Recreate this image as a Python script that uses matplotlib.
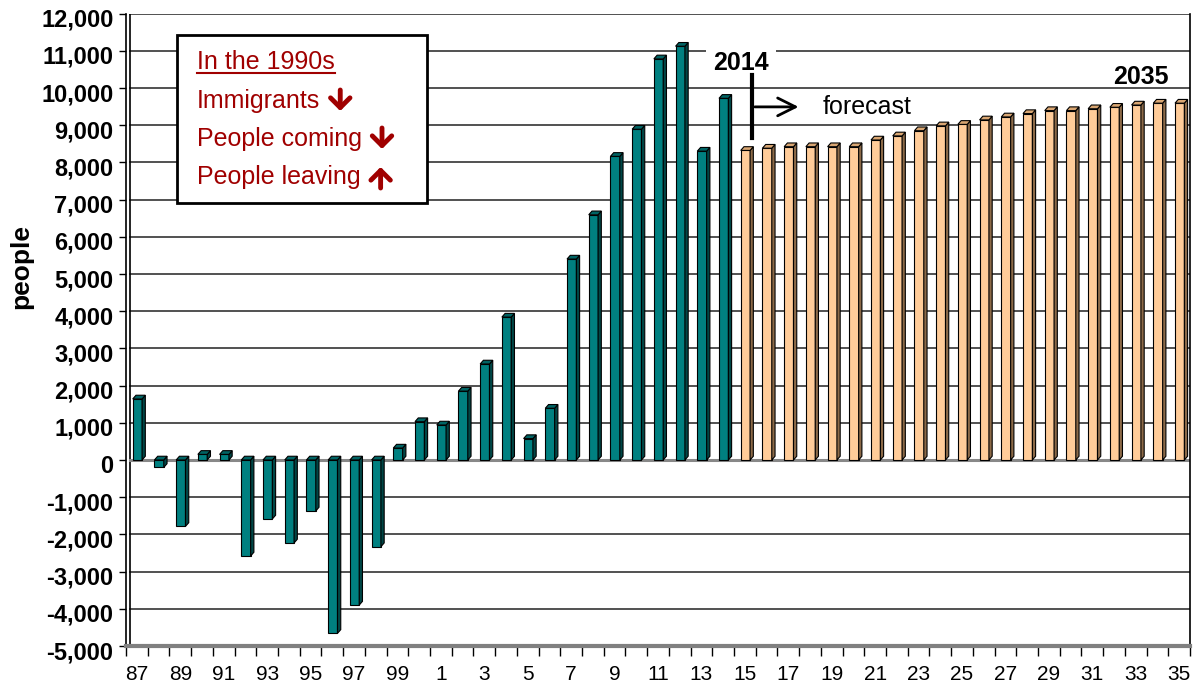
import numpy as np
import matplotlib.pyplot as plt
from matplotlib.patches import Polygon, Rectangle, FancyArrowPatch
from matplotlib.ticker import FuncFormatter, MultipleLocator
import matplotlib.transforms as mtransforms

plt.rcParams['font.family'] = ['Liberation Sans', 'DejaVu Sans']

# data: net migration (people), 1987-2014 actual, 2015-2035 forecast
years = list(range(1987, 2036))
actual = [1640, -200, -1785, 150, 150, -2580, -1585, -2230, -1370, -4660,
          -3900, -2330, 320, 1030, 940, 1850, 2580, 3840, 575, 1390,
          5400, 6590, 8160, 8890, 10780, 11120, 8300, 9720]
forecast = [8320, 8380, 8420, 8420, 8420, 8420, 8600, 8710, 8850, 8980,
            9020, 9140, 9220, 9310, 9390, 9390, 9440, 9480, 9540, 9590, 9590]
tick_labels = [str(y % 100) for y in years]
note_lines = ['In the 1990s', 'Immigrants', 'People coming', 'People leaving']
note_dirs = [0, -1, -1, 1]  # arrow after the line: down / up

W, H = 1195, 685
fig = plt.figure(figsize=(W / 100, H / 100), dpi=100)
ax = fig.add_axes([126 / W, 1 - 646 / H, (1190 - 126) / W, (646 - 13.5) / H])
ax.set_xlim(-0.5, len(years) - 0.5)
ax.set_ylim(-5000, 12000)

# back-wall gridlines
for g in range(-5000, 12001, 1000):
    ax.plot([-0.5 + 4 / 21.7, len(years) - 0.5], [g, g], color='#333333', lw=1.2, zorder=1)
ax.plot([-0.5 + 4 / 21.7, len(years) - 0.5], [0, 0], color='#888888', lw=2.2, zorder=1.5)
ax.axvline(-0.5 + 4 / 21.7, color='black', lw=1.2, zorder=1)

# pseudo-3D bars
front_w, off = 0.43, -0.19
dx, dy = 0.15, 100


def draw_bars(xs, vals, front, side, top):
    ax.bar(np.array(xs) + off, vals, width=front_w, align='edge', color=front,
           edgecolor='black', lw=0.8, zorder=3)
    for xi, v in zip(xs, vals):
        x0 = xi + off
        x1 = x0 + front_w
        lo, hi = min(v, 0), max(v, 0)
        ax.add_patch(Polygon([(x1, lo), (x1 + dx, lo + dy), (x1 + dx, hi + dy), (x1, hi)],
                             closed=True, facecolor=side, edgecolor='black', lw=0.8, zorder=3))
        ax.add_patch(Polygon([(x0, hi), (x1, hi), (x1 + dx, hi + dy), (x0 + dx, hi + dy)],
                             closed=True, facecolor=top, edgecolor='black', lw=0.8, zorder=3))


n_act = len(actual)
draw_bars(range(n_act), actual, '#008080', '#004646', '#006464')
draw_bars(range(n_act, n_act + len(forecast)), forecast, '#FFCC99', '#8C6A48', '#D9A672')

# axes frame
ax.spines['top'].set_visible(False)
ax.spines['left'].set_linewidth(1.2)
ax.spines['right'].set_linewidth(1.2)
ax.spines['bottom'].set_color('#808080')
ax.spines['bottom'].set_linewidth(3)

ax.yaxis.set_major_locator(MultipleLocator(1000))
ax.yaxis.set_major_formatter(FuncFormatter(lambda v, p: f'{int(v):,}'))
ax.tick_params(axis='y', direction='out', length=5, width=1, pad=4, labelsize=17)
for lab in ax.get_yticklabels():
    lab.set_fontweight('bold')
    lab.set_transform(lab.get_transform() + mtransforms.ScaledTranslation(0, -3 / 72, fig.dpi_scale_trans))

ax.set_xticks(list(range(0, len(years), 2)))
ax.set_xticklabels(tick_labels[::2])
ax.set_xticks(np.arange(-0.5, len(years)), minor=True)
ax.tick_params(axis='x', which='major', length=0, pad=14, labelsize=15)
ax.tick_params(axis='x', which='minor', length=7, width=1, direction='out')

fig.text(21 / W, 1 - 267 / H, 'people', rotation=90, ha='center', va='center',
         fontsize=19, fontweight='bold')

# forecast annotations
ax.text(27.83, 10670, '2014', ha='center', va='center', fontsize=18, fontweight='bold',
        bbox=dict(facecolor='white', edgecolor='none', pad=5), zorder=5)
ax.plot([28.33, 28.33], [8660, 10350], color='black', lw=3, zorder=5)
ax.annotate('', xy=(30.6, 9490), xytext=(28.33, 9490),
            arrowprops=dict(arrowstyle='->', lw=2, color='black', mutation_scale=32), zorder=5)
ax.text(31.56, 9490, 'forecast', ha='left', va='center', fontsize=18, zorder=5)
ax.text(46.25, 10300, '2035', ha='center', va='center', fontsize=18, fontweight='bold', zorder=5)

# note box
fig.add_artist(Rectangle((177 / W, 1 - 203 / H), 250 / W, 168 / H, transform=fig.transFigure,
                         facecolor='white', edgecolor='black', lw=2, zorder=6))
red = '#A00000'
ys = [62, 101, 139, 177]
texts = []
for line, yy in zip(note_lines, ys):
    texts.append(fig.text(197 / W, 1 - yy / H, line, ha='left', va='center',
                          fontsize=18, color=red, zorder=7))
fig.canvas.draw()
r = fig.canvas.get_renderer()
for t, d, yy in zip(texts, note_dirs, ys):
    bb = t.get_window_extent(r)
    yc = H - yy
    if d == 0:
        fig.add_artist(plt.Line2D([bb.x0 / W, bb.x1 / W], [(bb.y0 + 1) / H, (bb.y0 + 1) / H],
                                  transform=fig.transFigure, color=red, lw=1.5, zorder=7))
    else:
        xa = bb.x1 + 20
        fig.add_artist(FancyArrowPatch((xa, yc - 11 * d), (xa, yc + 10 * d),
                                       transform=mtransforms.IdentityTransform(),
                                       arrowstyle='->,head_length=0.35,head_width=0.35',
                                       mutation_scale=20, lw=3.5, color=red,
                                       shrinkA=0, shrinkB=0, zorder=7))

fig.savefig('out.png', dpi=100)
